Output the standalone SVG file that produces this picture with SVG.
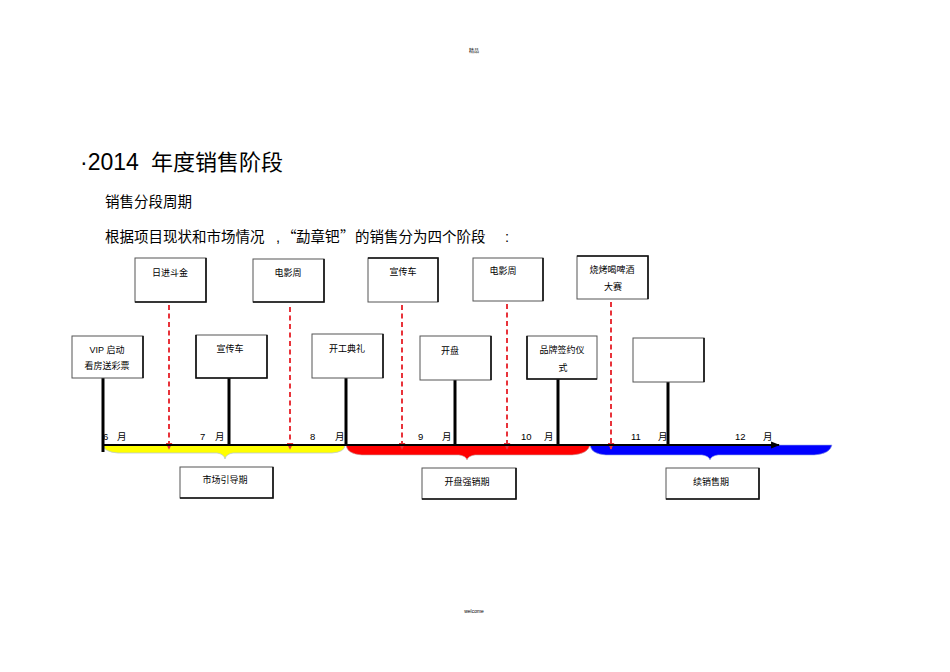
<svg xmlns="http://www.w3.org/2000/svg" width="950" height="672" viewBox="0 0 950 672">
<defs>
<style>
text{font-family:"Liberation Sans","Noto Sans CJK SC",sans-serif;fill:#000}
.cjk{font-family:"Noto Sans CJK SC",sans-serif}
.box{fill:#fff;stroke:#555;stroke-width:1}
.sh{fill:none;stroke:#111;stroke-width:1.6}
.bt{font-size:9px;text-anchor:middle}
.mo{font-size:9.5px}
.stem{stroke:#000;stroke-width:3}
.dash{stroke:#e8333a;stroke-width:2;stroke-dasharray:5,3.5}
</style>
<marker id="ra" viewBox="0 0 10 10" refX="9" refY="5" markerWidth="3.5" markerHeight="3.5" orient="auto"><path d="M0,0 L10,5 L0,10 Z" fill="#e8333a"/></marker>
<marker id="ka" viewBox="0 0 10 10" refX="9" refY="5" markerWidth="4" markerHeight="4" orient="auto"><path d="M0,1 L10,5 L0,9 Z" fill="#000"/></marker>
</defs>
<rect width="950" height="672" fill="#fff"/>
<text x="474" y="52" font-size="5" text-anchor="middle" fill="#666">精品</text>
<text x="474" y="613" font-size="5" text-anchor="middle" fill="#666">welcome</text>
<text y="170" font-size="22"><tspan x="80" font-size="23">·2014</tspan><tspan x="151">年度销售阶段</tspan></text>
<text x="105" y="207" font-size="14.5">销售分段周期</text>
<text y="242" font-size="14.5"><tspan x="105">根据项目现状和市场情况</tspan><tspan x="276">,</tspan><tspan x="282" class="cjk">“</tspan><tspan x="296">勐章钯</tspan><tspan x="340" class="cjk">”</tspan><tspan x="355">的销售分为四个阶段</tspan><tspan x="505">:</tspan></text>

<g id="braces">
<path d="M103,445 L345,445 Q345,452 332,453 L233,453 Q226,454 225,459 Q224,454 217,453 L118,453 Q104,452 103,445 Z" fill="#ffff00" stroke="#b9c8d8" stroke-width="0.8"/>
<path d="M346,445 L590,445 Q588,454 572,455 L475,455 Q468,456 467,460 Q466,456 459,455 L362,455 Q347,454 346,445 Z" fill="#ff0000" stroke="#c8b0b0" stroke-width="0.6"/>
<path d="M590,445 L832,445 Q830,454 814,455 L718,455 Q711,456 710,460 Q709,456 702,455 L606,455 Q591,454 590,445 Z" fill="#0000ff" stroke="#a0b0e0" stroke-width="0.6"/>
</g>

<g id="connectors">
<line class="stem" x1="103" y1="378" x2="103" y2="452"/>
<line class="stem" x1="229" y1="378" x2="229" y2="446"/>
<line class="stem" x1="346" y1="378" x2="346" y2="446"/>
<line class="stem" x1="455" y1="380" x2="455" y2="446"/>
<line class="stem" x1="558" y1="379" x2="558" y2="446"/>
<line class="stem" x1="668" y1="382" x2="668" y2="446"/>
<line class="dash" x1="169" y1="305" x2="169" y2="449" marker-end="url(#ra)"/>
<line class="dash" x1="290" y1="307" x2="290" y2="449" marker-end="url(#ra)"/>
<line class="dash" x1="402" y1="305" x2="402" y2="449" marker-end="url(#ra)"/>
<line class="dash" x1="507" y1="304" x2="507" y2="449" marker-end="url(#ra)"/>
<line class="dash" x1="611" y1="302" x2="611" y2="449" marker-end="url(#ra)"/>
<line x1="103" y1="445" x2="779" y2="445" stroke="#000" stroke-width="2.2" marker-end="url(#ka)"/>
</g>

<g id="months">
<text class="mo" y="440"><tspan x="103">6</tspan><tspan x="117">月</tspan></text>
<text class="mo" y="440"><tspan x="200">7</tspan><tspan x="215">月</tspan></text>
<text class="mo" y="440"><tspan x="310">8</tspan><tspan x="335">月</tspan></text>
<text class="mo" y="440"><tspan x="418">9</tspan><tspan x="442">月</tspan></text>
<text class="mo" y="440"><tspan x="521">10</tspan><tspan x="544">月</tspan></text>
<text class="mo" y="440"><tspan x="631">11</tspan><tspan x="658">月</tspan></text>
<text class="mo" y="440"><tspan x="735">12</tspan><tspan x="763">月</tspan></text>
</g>

<g id="n1"><rect class="box" x="135" y="258" width="71" height="44"/><polyline class="sh" points="206,258 206,302 135,302"/><text class="bt" x="170" y="276">日进斗金</text></g>
<g id="n2"><rect class="box" x="253" y="259" width="71" height="43"/><polyline class="sh" points="324,259 324,302 253,302"/><text class="bt" x="288" y="276">电影周</text></g>
<g id="n3"><rect class="box" x="368" y="258" width="70" height="44"/><polyline class="sh" points="368,258 438,258 438,302"/><text class="bt" x="403" y="275">宣传车</text></g>
<g id="n4"><rect class="box" x="473" y="258" width="70" height="43"/><polyline class="sh" points="543,258 543,301"/><text class="bt" x="503" y="274">电影周</text></g>
<g id="n5"><rect class="box" x="577" y="256" width="71" height="43"/><polyline class="sh" points="577,256 648,256 648,299"/><text class="bt" x="612" y="273">烧烤喝啤酒</text><text class="bt" x="613" y="290">大赛</text></g>

<g id="n6"><rect class="box" x="72" y="336" width="71" height="42"/><polyline class="sh" points="143,336 143,378"/><text class="bt" x="107" y="353">VIP 启动</text><text class="bt" x="107" y="369">看房送彩票</text></g>
<g id="n7"><rect class="box" x="196" y="335" width="71" height="43"/><polyline class="sh" points="196,335 196,378 267,378 267,335"/><text class="bt" x="230" y="352">宣传车</text></g>
<g id="n8"><rect class="box" x="312" y="334" width="71" height="44"/><polyline class="sh" points="383,334 383,378"/><text class="bt" x="347" y="352">开工典礼</text></g>
<g id="n9"><rect class="box" x="420" y="336" width="71" height="44"/><polyline class="sh" points="491,336 491,380"/><text class="bt" x="450" y="354">开盘</text></g>
<g id="n10"><rect class="box" x="527" y="336" width="70" height="43"/><polyline class="sh" points="527,336 527,379 597,379"/><text class="bt" x="562" y="353">品牌签约仪</text><text class="bt" x="563" y="371">式</text></g>
<g id="n11"><rect class="box" x="633" y="338" width="71" height="44"/><polyline class="sh" points="704,338 704,382"/></g>

<g id="p1"><rect class="box" x="180" y="467" width="93" height="31"/><polyline class="sh" points="273,467 273,498 180,498"/><text class="bt" x="225" y="483">市场引导期</text></g>
<g id="p2"><rect class="box" x="422" y="468" width="94" height="31"/><polyline class="sh" points="516,468 516,499 422,499"/><text class="bt" x="467" y="485">开盘强销期</text></g>
<g id="p3"><rect class="box" x="666" y="468" width="93" height="31"/><polyline class="sh" points="759,468 759,499 666,499"/><text class="bt" x="711" y="485">续销售期</text></g>
</svg>
